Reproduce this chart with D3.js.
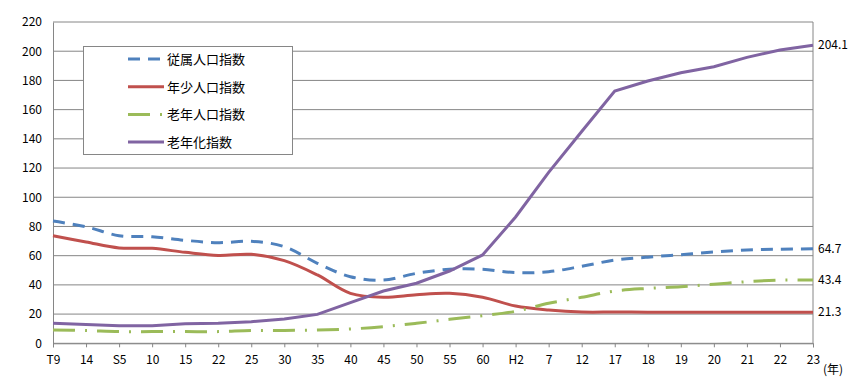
<!DOCTYPE html>
<html><head><meta charset="utf-8">
<script src="https://cdn.jsdelivr.net/npm/d3@7"></script>
<style>
body{margin:0;background:#fff;}
text{font-family:"Noto Sans CJK JP",sans-serif;font-size:12px;fill:#000;}
</style></head>
<body><svg id="c" width="861" height="392"></svg>
<script>
const categories = ["T9","14","S5","10","15","22","25","30","35","40","45","50","55","60","H2","7","12","17","18","19","20","21","22","23"];
const dependency = [83.7,79.8,73.7,73.0,70.5,68.9,69.8,66.2,54.8,45.6,43.3,47.9,50.7,50.7,48.4,49.0,52.7,57.0,59.0,60.7,62.5,63.9,64.4,64.7];
const youth      = [73.7,69.4,65.3,65.0,62.3,60.2,60.9,56.6,46.8,34.2,31.5,33.3,34.2,31.5,25.5,22.8,21.4,21.4,21.3,21.3,21.3,21.3,21.3,21.3];
const elderly    = [9.1,8.7,8.0,8.0,8.0,8.0,8.8,8.8,9.1,9.8,11.4,13.7,16.4,18.9,21.9,27.4,31.5,35.8,37.6,38.8,40.4,42.2,43.3,43.4];
const aging      = [13.7,12.8,12.1,12.1,13.4,13.7,14.8,16.6,19.8,27.8,35.8,41.1,49.5,60.5,86.5,117,145,172.7,179.6,185.3,189.4,195.8,200.8,204.1];
const yTicks = [0,20,40,60,80,100,120,140,160,180,200,220];
const seriesNames = ["従属人口指数","年少人口指数","老年人口指数","老年化指数"];
const endLabels = ["64.7","21.3","43.4","204.1"];

const svg = d3.select("#c");
const L=53, R=813, T=22, B=343.3;
const x = d3.scalePoint().domain(categories.map((c,i)=>i)).range([L,R]);
const y = d3.scaleLinear().domain([0,220]).range([B,T]);

svg.append("g").selectAll("line").data(yTicks).join("line")
  .attr("x1",L).attr("x2",R).attr("y1",d=>y(d)).attr("y2",d=>y(d))
  .attr("stroke","#868686").attr("stroke-width",1);
svg.append("line").attr("x1",R).attr("x2",R).attr("y1",T).attr("y2",B).attr("stroke","#868686");

const yAxis = d3.axisLeft(y).tickValues(yTicks).tickSize(0).tickPadding(11);
const gy = svg.append("g").attr("transform",`translate(${L},0)`).call(yAxis);
gy.select(".domain").attr("stroke","#868686");
gy.selectAll("text").style("font-size","12px");

const xAxis = d3.axisBottom(x).tickFormat(i=>categories[i]).tickSize(4).tickPadding(8);
const gx = svg.append("g").attr("transform",`translate(0,${B})`).call(xAxis);
gx.select(".domain").attr("stroke","#868686");
gx.selectAll(".tick line").attr("stroke","#868686");
gx.selectAll("text").style("font-size","12px");

svg.append("text").attr("x",823).attr("y",374).text("(年)").style("font-size","12px");

const styles = [
  {data:dependency,color:"#4F81BD",dash:"12,8",curve:d3.curveCatmullRom.alpha(0.5)},
  {data:youth,color:"#C0504D",dash:null,curve:d3.curveCatmullRom.alpha(0.5)},
  {data:elderly,color:"#9BBB59",dash:"22,10,2,10",curve:d3.curveCatmullRom.alpha(0.5)},
  {data:aging,color:"#8064A2",dash:null,curve:d3.curveLinear}
];
styles.forEach((s,k)=>{
  const line = d3.line().x((d,i)=>x(i)).y(d=>y(d)).curve(s.curve);
  svg.append("path").datum(s.data).attr("d",line).attr("fill","none")
    .attr("stroke",s.color).attr("stroke-width",3)
    .attr("stroke-dasharray",s.dash);
  const last = s.data[s.data.length-1];
  svg.append("text").attr("x",R+5).attr("y",y(last)+4).text(endLabels[k]).style("font-size","12px");
});

const lg = svg.append("g");
lg.append("rect").attr("x",83.5).attr("y",46.5).attr("width",209).attr("height",108)
  .attr("fill","#fff").attr("stroke","#868686");
styles.forEach((s,k)=>{
  const yy = 59 + k*27.7;
  lg.append("line").attr("x1",128).attr("x2",164).attr("y1",yy).attr("y2",yy)
    .attr("stroke",s.color).attr("stroke-width",3).attr("stroke-dasharray",s.dash);
  lg.append("text").attr("x",167).attr("y",yy+5).text(seriesNames[k]).style("font-size","13px");
});
</script></body></html>
